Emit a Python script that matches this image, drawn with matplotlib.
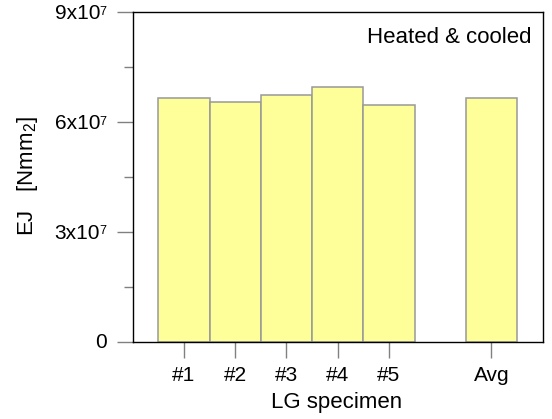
import matplotlib
matplotlib.use("Agg")
import matplotlib.pyplot as plt
from matplotlib.ticker import FixedLocator

plt.rcParams['font.family'] = ['Liberation Sans', 'DejaVu Sans']
plt.rcParams['mathtext.fontset'] = 'custom'
plt.rcParams['mathtext.rm'] = 'Liberation Sans'
plt.rcParams['mathtext.it'] = 'Liberation Sans'

categories = ["#1", "#2", "#3", "#4", "#5", "Avg"]
positions = [1, 2, 3, 4, 5, 7]
values = [6.66e7, 6.54e7, 6.75e7, 6.95e7, 6.47e7, 6.67e7]
ytick_vals = [0, 3e7, 6e7, 9e7]
ytick_mant = ["0", "3x10", "6x10", "9x10"]
ytick_exp = ["", "7", "7", "7"]
yminor_vals = [1.5e7, 4.5e7, 7.5e7]

W, H = 552, 419
fig = plt.figure(figsize=(W / 100, H / 100), dpi=100)
ax = fig.add_axes([132.7 / W, 1 - 341.5 / H, (542.7 - 132.7) / W, (341.5 - 12.3) / H])

ax.bar(positions, values, width=1.0, color="#FFFF99", edgecolor="#999999", linewidth=1.1)

ax.set_xlim(0, 8)
ax.set_ylim(0, 9e7)
ax.set_xticks(positions)
ax.set_xticklabels(categories, fontsize=15)
ax.set_yticks(ytick_vals)
ax.set_yticklabels([])
ax.yaxis.set_minor_locator(FixedLocator(yminor_vals))
ax.tick_params(axis='both', which='major', direction='out', length=11.5, width=1.0, color='#808080', pad=6)
ax.tick_params(axis='y', which='minor', direction='out', length=6.2, width=1.0, color='#808080')
ax.tick_params(axis='x', which='minor', length=0)
for s in ax.spines.values():
    s.set_linewidth(1.0)
    s.set_color('black')

# y tick labels with small raised exponent
for v, m, e in zip(ytick_vals, ytick_mant, ytick_exp):
    if e:
        ax.annotate(e, xy=(0, v), xycoords=('axes fraction', 'data'),
                    xytext=(-18.7, -1.9), textcoords='offset points',
                    ha='right', va='baseline', fontsize=9, annotation_clip=False)
        ax.annotate(m, xy=(0, v), xycoords=('axes fraction', 'data'),
                    xytext=(-23.5, -5.0), textcoords='offset points',
                    ha='right', va='baseline', fontsize=15, annotation_clip=False)
    else:
        ax.annotate(m, xy=(0, v), xycoords=('axes fraction', 'data'),
                    xytext=(-18.7, -5.0), textcoords='offset points',
                    ha='right', va='baseline', fontsize=15, annotation_clip=False)

fig.text(337 / W, 1 - 408 / H, "LG specimen", ha='center', va='baseline', fontsize=16)
fig.text(27 / W, 1 - 176 / H, r"EJ   [Nmm$_{2}$]", rotation=90, ha='center', va='center', fontsize=16)
fig.text(531.7 / W, 1 - 42.7 / H, "Heated & cooled", ha='right', va='baseline', fontsize=16)

fig.savefig("out.png", dpi=100)
